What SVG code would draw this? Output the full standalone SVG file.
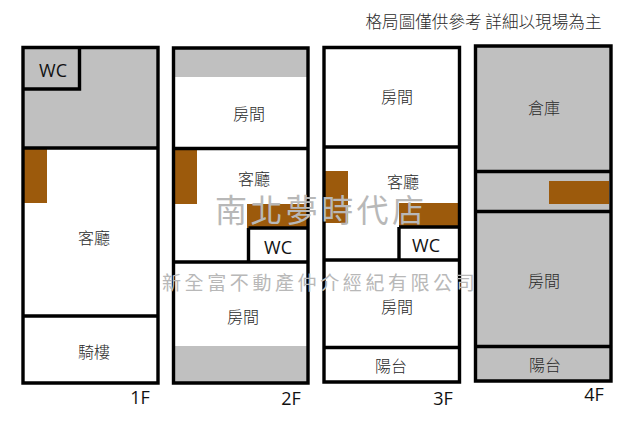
<svg xmlns="http://www.w3.org/2000/svg" width="640" height="430" viewBox="0 0 640 430">
<style>
text{font-family:"Noto Sans CJK TC","Open Sans",sans-serif;font-size:16px;fill:#2a2a2a;text-anchor:middle;font-weight:300}
.lat{font-family:"Open Sans","Noto Sans",sans-serif;font-size:18px;fill:#111;font-weight:400}
.w{stroke:#000;stroke-width:3.4;fill:none}
.g{fill:#c0c0c0}
.b{fill:#9c5a0c}
.wm{fill:#b8b8b8;font-family:"Noto Sans CJK TC",sans-serif;text-anchor:start;font-weight:400}
</style>
<rect width="640" height="430" fill="#fff"/>
<text id="note" x="483.500" y="28" style="font-size:16.600px">格局圖僅供參考 詳細以現場為主</text>
<g id="f1">
<rect class="g" x="23" y="47" width="135" height="101"/>
<rect class="b" x="24" y="149" width="23" height="54"/>
<path class="w" d="M23 47.500H158V383H23ZM23 148H158M23 316H158M79.500 47.500V89H23"/>
<text class="lat" x="53" y="77">WC</text>
<text x="94" y="244">客廳</text>
<text x="94" y="358">騎樓</text>
<text class="lat" x="140" y="404">1F</text>
</g>
<g id="f2">
<rect class="g" x="174" y="48" width="134" height="29"/>
<rect class="g" x="174" y="346" width="134" height="37"/>
<rect class="b" x="174" y="150" width="23" height="54"/>
<rect class="b" x="247" y="204" width="60" height="24"/>
<path class="w" d="M173.500 48H308V383H173.500ZM173.500 148.500H308M173.500 262H308M248.500 228H308M248.500 228V262"/>
<text x="249" y="120">房間</text>
<text x="254" y="185">客廳</text>
<text class="lat" x="278" y="254">WC</text>
<text x="243" y="323">房間</text>
<text class="lat" x="291" y="405">2F</text>
</g>
<g id="f3">
<rect class="b" x="325" y="171" width="23" height="52"/>
<rect class="b" x="399" y="203" width="59" height="24"/>
<path class="w" d="M324 47.500H459.500V382H324ZM324 147H459.500M324 260H459.500M399 227H459.500M399 227V260M324 347.500H459.500"/>
<text x="397" y="103">房間</text>
<text x="403" y="188">客廳</text>
<text class="lat" x="426" y="252">WC</text>
<text x="397" y="313">房間</text>
<text x="391" y="372">陽台</text>
<text class="lat" x="443" y="405">3F</text>
</g>
<g id="f4">
<rect class="g" x="475" y="46" width="136" height="335"/>
<rect class="b" x="549" y="181" width="60" height="23"/>
<path class="w" d="M475.500 46H611V381H475.500ZM475.500 171.500H611M475.500 211.500H611M475.500 346.500H611"/>
<text x="544" y="114">倉庫</text>
<text x="544" y="287">房間</text>
<text x="545" y="371">陽台</text>
<text class="lat" x="594" y="401">4F</text>
</g>
<g id="watermark">
<text class="wm" x="215" y="222" style="font-size:32px;letter-spacing:3.400px">南北夢時代店</text>
<text class="wm" x="162" y="290" style="font-size:19px;letter-spacing:3.600px">新全富不動產仲介經紀有限公司</text>
</g>
</svg>
